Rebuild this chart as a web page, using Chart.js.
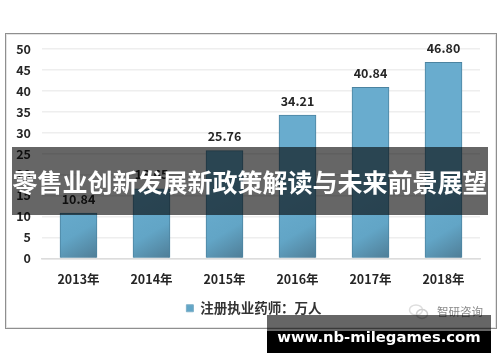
<!DOCTYPE html>
<html><head><meta charset="utf-8">
<style>
html,body{margin:0;padding:0;background:#fff;width:500px;height:362px;overflow:hidden;font-family:"Noto Sans CJK SC",sans-serif}
#frame{position:absolute;left:5px;top:33px;width:490px;height:294px;border:1px solid #8f8f8f;box-shadow:inset 0 0 0 1px #e4e4e4}
#wrap{position:absolute;left:0;top:0;width:500px;height:362px;filter:blur(.45px)}
canvas{position:absolute;left:0;top:0}
#band{position:absolute;left:12px;top:147px;width:476px;height:68px;background:rgba(0,0,0,.6);color:#fff;font-weight:700;font-size:25px;line-height:68px;text-align:center;white-space:nowrap}
#footGray{position:absolute;left:267px;top:315px;width:224px;height:16px;background:rgba(0,0,0,.6)}
#foot{position:absolute;left:267px;top:331px;width:224px;height:22px;background:#000;color:#fff;font:700 14.8px "DejaVu Sans",sans-serif;line-height:11px;text-align:center;white-space:nowrap}
#wm{position:absolute;left:437px;top:304px;color:#8a8a8a;font-size:11.5px;line-height:14px;white-space:nowrap}
#logo{position:absolute;left:408px;top:302px}
</style></head><body>
<div id="wrap"><div id="frame"></div><canvas id="c" width="500" height="362"></canvas>
<svg id="logo" width="22" height="20"><ellipse cx="8" cy="8" rx="6.5" ry="5" fill="none" stroke="#dedede" stroke-width="1.5"/><ellipse cx="14" cy="12" rx="5.5" ry="4.5" fill="none" stroke="#d0d0d0" stroke-width="1.5"/></svg>
<div id="wm">智研咨询</div></div>
<div id="band">零售业创新发展新政策解读与未来前景展望</div>
<div id="footGray"></div>
<div id="foot">www.nb-milegames.com</div>
<script src="https://cdn.jsdelivr.net/npm/chart.js@4/dist/chart.umd.min.js"></script>
<script>
const categories=["2013年","2014年","2015年","2016年","2017年","2018年"];
const seriesName="注册执业药师：万人";
const seriesValues=[10.84,16.65,25.76,34.21,40.84,46.80];
const tickValues=[0,5,10,15,20,25,30,35,40,45,50];
const fontFamily='"Noto Sans CJK SC",sans-serif';
const valueLabels={id:"valueLabels",afterDatasetsDraw(ch){
  const g=ch.ctx,m=ch.getDatasetMeta(0);
  g.save();g.fillStyle="#262626";g.font="700 12.5px "+fontFamily;g.textAlign="center";g.textBaseline="middle";
  m.data.forEach((b,i)=>g.fillText(seriesValues[i].toFixed(2),b.x,b.y-14));
  g.restore();
}};
const legendShift={id:"legendShift",afterLayout(ch){ch.legend.left+=8;ch.legend.right+=8;ch.legend.top+=1;ch.legend.bottom+=1;}};
new Chart(document.getElementById("c"),{
  type:"bar",
  data:{labels:categories,datasets:[{label:seriesName,data:seriesValues,
    backgroundColor(ctx){
      const a=ctx.chart.chartArea; if(!a)return "#64a8c9";
      const i=ctx.dataIndex; const s=ctx.chart.scales;
      if(i===undefined)return "#64a8c9";
      const x=s.x.getPixelForValue(i);
      const gr=ctx.chart.ctx.createLinearGradient(x-18,a.bottom-60,x+18,a.bottom);
      gr.addColorStop(0,"#69acce");gr.addColorStop(.55,"#62a5c6");gr.addColorStop(1,"#4f7d96");
      return gr;},
    borderColor:"#4b83a0",borderWidth:1,barThickness:37}]},
  options:{
    responsive:false,animation:false,
    layout:{padding:{left:12,right:20,top:49,bottom:38}},
    plugins:{
      legend:{display:true,position:"bottom",labels:{boxWidth:7,boxHeight:7,color:"#333",font:{family:fontFamily,size:13.5,weight:"700"},padding:7,
        generateLabels(ch){return [{text:seriesName,fillStyle:"#62a6c7",strokeStyle:"#7fb0c8",lineWidth:1,datasetIndex:0,fontColor:"#333"}];}}},
      tooltip:{enabled:false},title:{display:false}
    },
    scales:{
      x:{afterFit(ax){ax.height=35;},grid:{display:false},border:{color:"#dcdcdc",width:1.5},ticks:{color:"#262626",font:{family:fontFamily,size:12.5,weight:"700"},padding:5,maxRotation:0}},
      y:{min:0,max:50,afterFit(ax){ax.width=30;},afterBuildTicks(ax){ax.ticks=tickValues.map(v=>({value:v}));},
        grid:{color:"#eeeeee",lineWidth:1.5,tickLength:0},border:{display:false},
        ticks:{color:"#262626",font:{family:fontFamily,size:12.5,weight:"700"},padding:11}}
    }
  },
  plugins:[valueLabels,legendShift]
});
</script>
</body></html>
